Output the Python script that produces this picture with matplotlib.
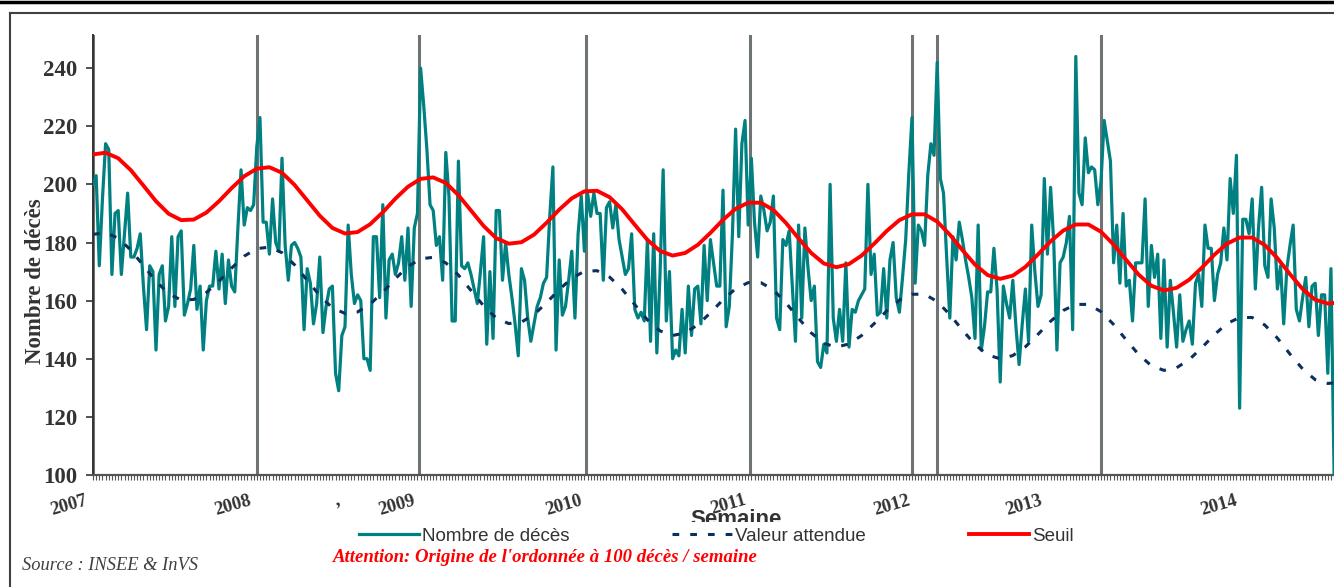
import numpy as np
import matplotlib
matplotlib.use("Agg")
from matplotlib import pyplot as plt

W, H = 1334, 587

# nombre de deces hebdomadaire, semaine 0 = 1re semaine 2007
deces = [
    200, 203, 172, 195, 214, 212, 169, 190, 191, 169,
    183, 197, 175, 175, 178, 183, 165, 150, 172, 170,
    143, 169, 172, 153, 158, 182, 158, 182, 184, 155,
    159, 164, 179, 157, 165, 143, 160, 165, 165, 177,
    164, 176, 159, 174, 165, 163, 185, 205, 186, 192,
    191, 193, 213, 223, 187, 187, 176, 195, 180, 177,
    209, 179, 167, 179, 180, 178, 175, 150, 171, 166,
    152, 159, 175, 149, 158, 164, 165, 135, 129, 148,
    151, 186, 169, 159, 162, 160, 140, 140, 136, 182,
    182, 161, 193, 154, 174, 176, 169, 173, 182, 167,
    185, 158, 185, 190, 240, 227, 212, 193, 191, 179,
    182, 167, 211, 196, 153, 153, 208, 172, 171, 173,
    169, 164, 159, 170, 182, 145, 170, 147, 191, 191,
    167, 180, 169, 161, 152, 141, 171, 167, 154, 146,
    152, 158, 161, 166, 168, 189, 206, 143, 174, 155,
    158, 167, 177, 154, 183, 196, 177, 197, 189, 197,
    190, 190, 167, 192, 194, 185, 193, 181, 175, 169,
    171, 183, 157, 154, 156, 153, 181, 146, 183, 142,
    169, 205, 153, 170, 140, 143, 141, 157, 142, 165,
    148, 164, 165, 152, 179, 160, 181, 173, 165, 165,
    198, 151, 158, 183, 219, 182, 214, 222, 186, 209,
    187, 175, 196, 191, 184, 187, 196, 154, 150, 181,
    179, 184, 165, 146, 186, 154, 185, 171, 160, 165,
    139, 137, 145, 142, 200, 154, 146, 157, 146, 173,
    144, 157, 156, 160, 162, 164, 200, 169, 176, 155,
    156, 171, 154, 174, 180, 161, 156, 168, 181, 204,
    223, 166, 186, 184, 179, 203, 214, 210, 242, 202,
    197, 175, 154, 182, 174, 187, 181, 174, 168, 161,
    147, 186, 143, 151, 163, 163, 178, 164, 132, 165,
    159, 154, 167, 151, 138, 152, 164, 146, 186, 170,
    158, 162, 202, 176, 199, 180, 143, 173, 175, 180,
    189, 150, 244, 197, 193, 216, 204, 206, 205, 193,
    201, 222, 215, 208, 173, 186, 166, 190, 165, 167,
    153, 173, 173, 173, 195, 158, 179, 168, 176, 147,
    174, 144, 167, 156, 144, 162, 146, 150, 153, 145,
    166, 169, 158, 186, 178, 178, 160, 169, 173, 185,
    174, 202, 190, 210, 123, 188, 188, 183, 195, 164,
    185, 199, 172, 168, 195, 185, 164, 172, 152, 171,
    179, 186, 157, 153, 161, 168, 151, 165, 166, 148,
    162, 162, 135, 171, 100,
]
semaines = np.arange(len(deces))

# seuil et valeur attendue, lus toutes les 4 semaines
pas = list(range(0, 393, 4)) + [394]
seuil = [
    210.3, 210.9, 209.0, 204.9, 199.6, 194.2, 189.9, 187.7,
    187.9, 190.3, 194.2, 198.7, 202.8, 205.4,
    205.9, 204.0, 199.8, 194.5, 189.2, 185.0, 183.1,
    183.6, 186.3, 190.4, 195.1, 199.2, 201.9,
    202.4, 200.5, 196.3, 191.0, 185.7, 181.5, 179.6,
    180.1, 182.7, 186.8, 191.3, 195.2, 197.6,
    197.8, 195.6, 191.4, 186.1, 180.9, 177.1, 175.5,
    176.4, 179.2, 183.3, 187.8, 191.6, 193.7,
    193.7, 191.2, 186.7, 181.4, 176.4, 172.8,
    171.5, 172.6, 175.5, 179.6, 184.0, 187.7, 189.7,
    189.7, 187.2, 182.7, 177.4, 172.4, 168.8,
    167.5, 168.6, 171.6, 175.9, 180.4, 184.1, 186.2,
    186.2, 183.7, 179.3, 174.0, 168.9, 165.1, 163.5,
    164.4, 167.2, 171.3, 175.8, 179.6, 181.7,
    181.7, 179.1, 174.6, 169.1, 164.0, 160.3, 159.0, 159.2,
]
attendu = [
    182.8, 183.4, 181.5, 177.4, 172.1, 166.7, 162.4, 160.2,
    160.4, 162.8, 166.7, 171.2, 175.3, 177.9,
    178.4, 176.5, 172.3, 167.0, 161.7, 157.5, 155.6,
    156.1, 158.8, 162.9, 167.6, 171.7, 174.4,
    174.9, 173.0, 168.8, 163.5, 158.2, 154.0, 152.1,
    152.6, 155.2, 159.3, 163.8, 167.7, 170.1,
    170.3, 168.1, 163.9, 158.6, 153.4, 149.6, 148.0,
    148.9, 151.7, 155.8, 160.3, 164.1, 166.2,
    166.2, 163.7, 159.2, 153.9, 148.9, 145.3,
    144.0, 145.1, 148.0, 152.1, 156.5, 160.2, 162.2,
    162.2, 159.7, 155.2, 149.9, 144.9, 141.3,
    140.0, 141.1, 144.1, 148.4, 152.9, 156.6, 158.7,
    158.7, 156.2, 151.8, 146.5, 141.4, 137.6, 136.0,
    136.9, 139.7, 143.8, 148.3, 152.1, 154.2,
    154.2, 151.6, 147.1, 141.6, 136.5, 132.8, 131.5, 131.7,
]

# traits verticaux (debuts d'annee / episodes)
reperes = [0, 52, 103.5, 156.5, 208.5, 260, 268, 320]

annees = ["2007", "2008", ",", "2009", "2010", "2011", "2012", "2013", "2014"]
annees_pos = [0, 52, 80, 104, 157, 209, 261, 303, 365]
y_ticks = [100, 120, 140, 160, 180, 200, 220, 240]

SERIF = ["Liberation Serif", "DejaVu Serif"]
SANS = ["Liberation Sans", "DejaVu Sans"]
TEAL = "#008080"
NAVY = "#0b2f5e"
GRIS = "#333333"

fig = plt.figure(figsize=(W / 100, H / 100), dpi=100)
ax = fig.add_axes([93 / W, 1 - 475 / H, 396 * 3.15 / W, 440 / H])

for r in reperes:
    ax.axvline(r, color="#6e7474", lw=2.2, zorder=1)

l1, = ax.plot(semaines, deces, color=TEAL, lw=2.3, zorder=3, label="Nombre de décès")
l2, = ax.plot(pas, attendu, color=NAVY, lw=2.2, dashes=(2.2, 3.6), zorder=4,
              label="Valeur attendue")
l3, = ax.plot(pas, seuil, color="#ff0000", lw=2.8, zorder=5, label="Seuil")

ax.set_xlim(0, 396)
ax.set_ylim(100, 251.4)
ax.spines["top"].set_visible(False)
ax.spines["right"].set_visible(False)
ax.spines["left"].set_color(GRIS)
ax.spines["left"].set_linewidth(1.4)
ax.spines["bottom"].set_color("#555555")
ax.spines["bottom"].set_linewidth(1.6)

ax.set_yticks(y_ticks)
ax.set_yticklabels([str(v) for v in y_ticks], fontsize=16.5, fontweight="bold",
                   family=SERIF, color=GRIS)
ax.tick_params(axis="y", length=5, width=1.2, color=GRIS, pad=6)
ax.set_xticks(np.arange(0, 396))
ax.set_xticklabels([])
ax.tick_params(axis="x", length=3.5, width=0.8, color="#555555")

for lab, pos in zip(annees, annees_pos):
    ax.annotate(lab, xy=(pos, 0), xycoords=("data", "axes fraction"),
                xytext=(-5.8, -12.2), textcoords="offset points",
                rotation=16, rotation_mode="anchor", ha="right", va="top",
                fontsize=13.5, fontweight="bold", family=SERIF, color=GRIS)

fig.text(36 / W, 1 - 281 / H, "Nombre de décès", rotation=90, ha="center",
         va="center", fontsize=16.5, fontweight="bold", family=SERIF, color=GRIS)
fig.text(736 / W, 1 - 525 / H, "Semaine", ha="center", va="baseline",
         fontsize=16, fontweight="bold", family=SANS, color=GRIS)

leg = fig.legend(handles=[l1, l2, l3], loc="center", ncol=3,
                 bbox_to_anchor=(716 / W, 1 - 536 / H),
                 prop={"family": SANS, "size": 13.5}, handlelength=3.2,
                 handletextpad=0.15, columnspacing=5.5, borderpad=0.28,
                 frameon=True, fancybox=False, framealpha=1)
leg.get_frame().set_facecolor("white")
leg.get_frame().set_edgecolor("none")
for t in leg.get_texts():
    t.set_color(GRIS)

fig.text(333 / W, 1 - 557 / H, "Attention: Origine de l'ordonnée à 100 décès / semaine",
         ha="left", va="center", fontsize=13.5, fontweight="bold", style="italic",
         family=SERIF, color="#ff0000", zorder=6)
fig.text(22 / W, 1 - 565 / H, "Source : INSEE & InVS", ha="left", va="center",
         fontsize=13.3, style="italic", family=SERIF, color="#404040", zorder=6)

# cadre et bandeau noir
fig.add_artist(plt.Line2D([0, 1], [1 - 1.5 / H, 1 - 1.5 / H], color="black", lw=2.5,
                          transform=fig.transFigure))
fig.add_artist(plt.Line2D([10 / W, 1], [1 - 13 / H, 1 - 13 / H], color="#404040", lw=1.5,
                          transform=fig.transFigure))
fig.add_artist(plt.Line2D([10 / W, 10 / W], [0, 1 - 13 / H], color="#404040", lw=1.5,
                          transform=fig.transFigure))

fig.savefig("out.png", dpi=100)
